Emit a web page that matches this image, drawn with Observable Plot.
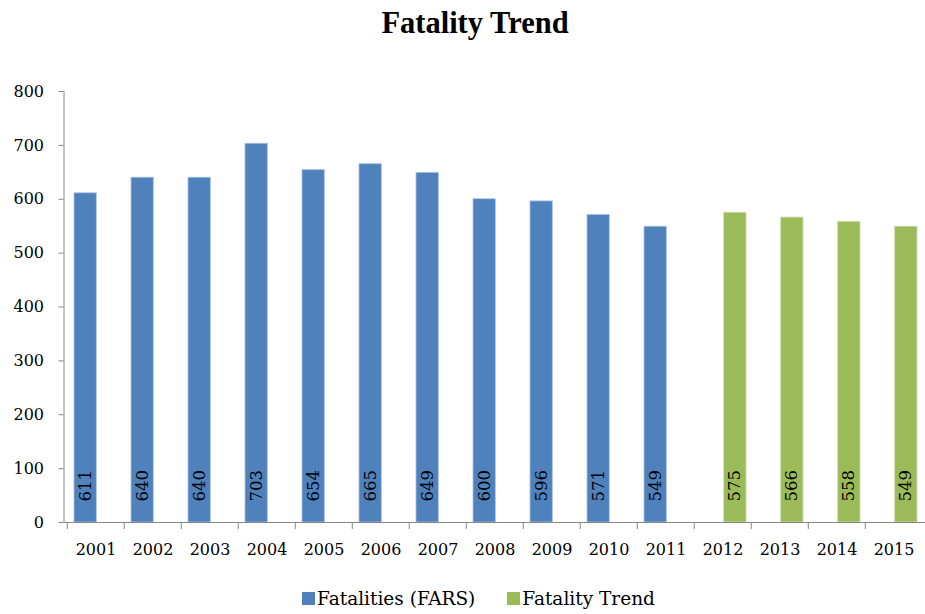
<!DOCTYPE html>
<html><head><meta charset="utf-8">
<script src="https://cdn.jsdelivr.net/npm/d3@7"></script>
<script src="https://cdn.jsdelivr.net/npm/@observablehq/plot@0.6"></script>
<style>
body{margin:0;background:#fff;font-family:"DejaVu Serif",serif;color:#000;width:925px;overflow:hidden;}
#title{height:62px;box-sizing:border-box;padding-top:8px;padding-left:25px;text-align:center;font-family:"Liberation Serif",serif;font-size:30.5px;line-height:30px;font-weight:bold;}
#chart svg{display:block;}
#legend{height:47px;box-sizing:border-box;padding-top:23px;padding-left:32px;display:flex;justify-content:center;gap:32px;font-size:18.5px;line-height:18.5px;}
.sw{display:inline-block;width:13px;height:13px;margin-right:2px;vertical-align:baseline;}
</style>
</head><body>
<div id="title">Fatality Trend</div>
<div id="chart"></div>
<div id="legend">
  <span><span class="sw" style="background:#4F81BD"></span>Fatalities (FARS)</span>
  <span><span class="sw" style="background:#9BBB59"></span>Fatality Trend</span>
</div>
<script>
const years = ["2001","2002","2003","2004","2005","2006","2007","2008","2009","2010","2011","2012","2013","2014","2015"];
const farsYears = ["2001","2002","2003","2004","2005","2006","2007","2008","2009","2010","2011"];
const farsValues = [611,640,640,703,654,665,649,600,596,571,549];
const trendYears = ["2012","2013","2014","2015"];
const trendValues = [575,566,558,549];
const yTicks = [0,100,200,300,400,500,600,700,800];

const farsRows = farsYears.map((y,i)=>({year:y, value:farsValues[i]}));
const trendRows = trendYears.map((y,i)=>({year:y, value:trendValues[i]}));

const axisGray = "#868686";
const chart = Plot.plot({
  width: 925, height: 505,
  marginLeft: 63.5, marginRight: 0, marginTop: 29, marginBottom: 45,
  style: {fontFamily: "DejaVu Serif", fontSize: "16px", color: "#000", background: "transparent", overflow: "visible"},
  x: {type: "band", domain: years, paddingInner: 0, paddingOuter: 0, label: null},
  y: {domain: [0, 800], label: null},
  marks: [
    Plot.barY(farsRows, {x: "year", y: "value", fill: "#4F81BD", stroke: "#a9c1e0", strokeWidth: 0.8, insetLeft: 7, insetRight: 27.7}),
    Plot.barY(trendRows, {x: "year", y: "value", fill: "#9BBB59", stroke: "#cddcb0", strokeWidth: 0.8, insetLeft: 29.7, insetRight: 5}),
    Plot.text(farsRows, {x: "year", y: () => 0, text: d => String(d.value), rotate: -90, textAnchor: "start", dx: -10, dy: -21, fontSize: 16.5, fill: "#000"}),
    Plot.text(trendRows, {x: "year", y: () => 0, text: d => String(d.value), rotate: -90, textAnchor: "start", dx: 12, dy: -21, fontSize: 16.5, fill: "#000"}),
    Plot.axisY({ticks: yTicks, tickSize: 5, tickPadding: 15, stroke: axisGray, fill: "#000", label: null}),
    Plot.axisX({tickSize: 0, tickPadding: 21, fill: "#000", label: null}),
    Plot.axisX({tickSize: 7, tickFormat: () => "", dx: -28.72, stroke: axisGray, label: null}),
    Plot.frame({anchor: "left", stroke: axisGray}),
    Plot.frame({anchor: "bottom", stroke: axisGray})
  ]
});
document.getElementById("chart").appendChild(chart);
</script>
</body></html>
